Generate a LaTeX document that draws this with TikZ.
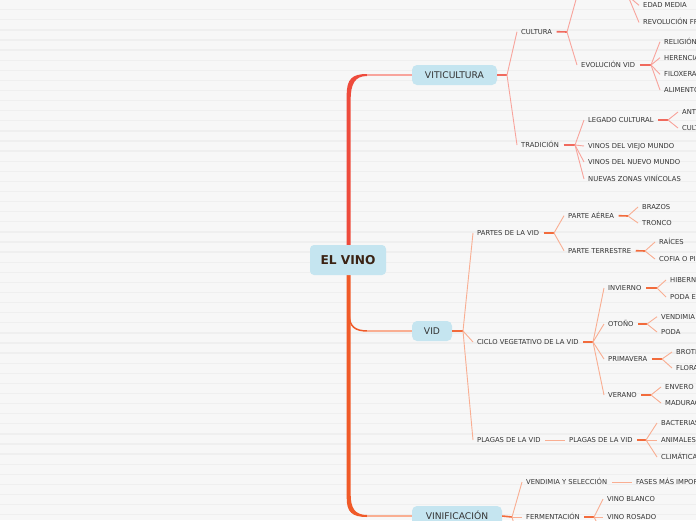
\documentclass[tikz,border=0pt]{standalone}
\usepackage{fontspec}
\setmainfont{DejaVu Sans}
\definecolor{bgc}{HTML}{F7F7F7}
\definecolor{stripec}{HTML}{EFEFEF}
\definecolor{boxc}{HTML}{C5E5F0}
\definecolor{txtc}{HTML}{333333}
\definecolor{vinoc}{HTML}{3B2314}
\definecolor{trunkR}{HTML}{EE4B3C}
\definecolor{trunkO}{HTML}{F05A28}
\definecolor{stubRc}{HTML}{F06A5E}
\definecolor{fanRc}{HTML}{F8A49C}
\definecolor{stubOc}{HTML}{F26B3C}
\definecolor{fanOc}{HTML}{F9AE92}
\tikzset{
 lbl/.style={anchor=west, inner sep=0pt, text height=4.96pt, text depth=0pt, font=\fontsize{6.8}{8}\selectfont, text=txtc},
 topbox/.style={fill=boxc, rounded corners=5pt, inner sep=0pt, text=txtc, font=\fontsize{9.2}{11}\selectfont, minimum height=20pt, text height=6.7pt, text depth=0pt},
 stubR/.style={draw=stubRc, line width=1.6pt},
 fanR/.style={draw=fanRc, line width=0.9pt},
 stubO/.style={draw=stubOc, line width=1.6pt},
 fanO/.style={draw=fanOc, line width=0.9pt},
}
\begin{document}
\begin{tikzpicture}[x=1pt,y=-1pt]
\useasboundingbox (0,0) rectangle (696,520);
\clip (0,0) rectangle (696,520);
\fill[bgc] (0,0) rectangle (696,520);
\foreach \i in {0,...,51} \fill[stripec] (0,{9+10.1*\i}) rectangle (696,{10.3+10.1*\i});

% trunk
\fill[trunkR] (367,74) .. controls (352,74) and (346.7,79) .. (346.7,95) -- (346.7,250) -- (350.7,250) -- (350.7,100) .. controls (350.5,84) and (355,76) .. (367,76) -- cycle;
\fill[trunkO] (346.7,270) -- (346.7,498) .. controls (346.7,512) and (352,517) .. (367,517) -- (367,515) .. controls (355,515) and (350.7,508) .. (350.7,495) -- (350.7,270) -- cycle;
\draw[trunkO, line width=1.5pt] (349,314) .. controls (349.5,327) and (355,331) .. (368,331);

% main nodes
\node[fill=boxc, rounded corners=4pt, minimum width=76pt, minimum height=30pt, inner sep=0pt, text=vinoc, font=\fontsize{12.2}{14}\selectfont\bfseries] (vino) at (348,260) {EL VINO};
\node[topbox, minimum width=85pt] (viti) at (454.5,75) {VITICULTURA};
\node[topbox, minimum width=40pt] (vid) at (432,331) {VID};
\node[topbox, minimum width=90pt] (vinif) at (457,516) {VINIFICACIÓN};

\coordinate (c1) at (367,75);
\coordinate (c2) at (367,331);
\coordinate (c3) at (367,516);
\draw[fanR, line width=1.1pt] (c1) -- (viti.west);
\draw[fanO, line width=1.1pt] (c2) -- (vid.west);
\draw[fanO, line width=1.1pt] (c3) -- (vinif.west);

% ---------- VITICULTURA ----------
\node[lbl] (cultura) at (521,31.7) {CULTURA};
\node[lbl] (tradicion) at (521,145) {TRADICIÓN};
\node[lbl] (edad) at (643,5.3) {EDAD MEDIA};
\node[lbl] (revol) at (643,22.5) {REVOLUCIÓN FR};
\node[lbl] (evol) at (581,65) {EVOLUCIÓN VID};
\node[lbl] (religion) at (664,41.7) {RELIGIÓN};
\node[lbl] (herencia) at (664,57.7) {HERENCIA};
\node[lbl] (filoxera) at (664,74.3) {FILOXERA};
\node[lbl] (alimento) at (664,90) {ALIMENTO};
\node[lbl] (legado) at (588,120) {LEGADO CULTURAL};
\node[lbl] (viejo) at (588,146) {VINOS DEL VIEJO MUNDO};
\node[lbl] (nuevo) at (588,162) {VINOS DEL NUEVO MUNDO};
\node[lbl] (nuevas) at (588,179) {NUEVAS ZONAS VINÍCOLAS};
\node[lbl] (anti) at (682,112) {ANTI};
\node[lbl] (cult) at (682,128) {CULT};

\coordinate (v1) at (507,75);
\coordinate (v2) at (567,32);
\coordinate (hid1) at (581,-4);
\coordinate (v3) at (628,-4);
\coordinate (v4) at (651,65);
\coordinate (v5) at (575,145);
\coordinate (v6) at (668,120);

\draw[stubR] (viti.east) -- (v1);
\foreach \t in {cultura,tradicion} \draw[fanR] (v1) -- ([xshift=-4pt]\t.west);
\draw[stubR] ([xshift=4.5pt]cultura.east) -- (v2);
\draw[fanR] (v2) -- ([xshift=-4pt]hid1);
\draw[fanR] (v2) -- ([xshift=-4pt]evol.west);
\foreach \t in {edad,revol} \draw[fanR] (v3) -- ([xshift=-4pt]\t.west);
\draw[stubR] ([xshift=4.5pt]evol.east) -- (v4);
\foreach \t in {religion,herencia,filoxera,alimento} \draw[fanR] (v4) -- ([xshift=-4pt]\t.west);
\draw[stubR] ([xshift=4.5pt]tradicion.east) -- (v5);
\foreach \t in {legado,viejo,nuevo,nuevas} \draw[fanR] (v5) -- ([xshift=-4pt]\t.west);
\draw[stubR] ([xshift=4.5pt]legado.east) -- (v6);
\foreach \t in {anti,cult} \draw[fanR] (v6) -- ([xshift=-4pt]\t.west);

% ---------- VID ----------
\node[lbl] (partes) at (477,233) {PARTES DE LA VID};
\node[lbl] (ciclo) at (477,342) {CICLO VEGETATIVO DE LA VID};
\node[lbl] (plagas) at (477,440) {PLAGAS DE LA VID};
\node[lbl] (aerea) at (568,215.7) {PARTE AÉREA};
\node[lbl] (terrestre) at (568,250.7) {PARTE TERRESTRE};
\node[lbl] (brazos) at (642,207) {BRAZOS};
\node[lbl] (tronco) at (642,223) {TRONCO};
\node[lbl] (raices) at (659,242) {RAÍCES};
\node[lbl] (cofia) at (659,259) {COFIA O PI};
\node[lbl] (invierno) at (608,288) {INVIERNO};
\node[lbl] (otono) at (608,324) {OTOÑO};
\node[lbl] (primavera) at (608,359) {PRIMAVERA};
\node[lbl] (verano) at (608,395) {VERANO};
\node[lbl] (hibern) at (670,280) {HIBERN};
\node[lbl] (podae) at (670,297) {PODA E};
\node[lbl] (vendimia) at (661,316.7) {VENDIMIA};
\node[lbl] (poda) at (661,332) {PODA};
\node[lbl] (brote) at (676,352) {BROTE};
\node[lbl] (flora) at (676,368) {FLORA};
\node[lbl] (envero) at (665,387) {ENVERO};
\node[lbl] (madurac) at (665,403) {MADURAC};
\node[lbl] (plagasb) at (569,440) {PLAGAS DE LA VID};
\node[lbl] (bacterias) at (661,423) {BACTERIAS};
\node[lbl] (animales) at (661,440) {ANIMALES};
\node[lbl] (climatica) at (661,457) {CLIMÁTICA};

\coordinate (w1) at (463,331);
\coordinate (w2) at (554,233);
\coordinate (w3) at (628,216);
\coordinate (w4) at (645,251);
\coordinate (w5) at (593,342);
\coordinate (w6) at (657,288);
\coordinate (w7) at (647,324);
\coordinate (w8) at (662,359);
\coordinate (w9) at (651,395);
\coordinate (w10) at (646,440);

\draw[stubO] (vid.east) -- (w1);
\foreach \t in {partes,ciclo,plagas} \draw[fanO] (w1) -- ([xshift=-4pt]\t.west);
\draw[stubO] ([xshift=4.5pt]partes.east) -- (w2);
\foreach \t in {aerea,terrestre} \draw[fanO] (w2) -- ([xshift=-4pt]\t.west);
\draw[stubO] ([xshift=4.5pt]aerea.east) -- (w3);
\foreach \t in {brazos,tronco} \draw[fanO] (w3) -- ([xshift=-4pt]\t.west);
\draw[stubO] ([xshift=4.5pt]terrestre.east) -- (w4);
\foreach \t in {raices,cofia} \draw[fanO] (w4) -- ([xshift=-4pt]\t.west);
\draw[stubO] ([xshift=4.5pt]ciclo.east) -- (w5);
\foreach \t in {invierno,otono,primavera,verano} \draw[fanO] (w5) -- ([xshift=-4pt]\t.west);
\draw[stubO] ([xshift=4.5pt]invierno.east) -- (w6);
\foreach \t in {hibern,podae} \draw[fanO] (w6) -- ([xshift=-4pt]\t.west);
\draw[stubO] ([xshift=4.5pt]otono.east) -- (w7);
\foreach \t in {vendimia,poda} \draw[fanO] (w7) -- ([xshift=-4pt]\t.west);
\draw[stubO] ([xshift=4.5pt]primavera.east) -- (w8);
\foreach \t in {brote,flora} \draw[fanO] (w8) -- ([xshift=-4pt]\t.west);
\draw[stubO] ([xshift=4.5pt]verano.east) -- (w9);
\foreach \t in {envero,madurac} \draw[fanO] (w9) -- ([xshift=-4pt]\t.west);
\draw[fanO] ([xshift=4.5pt]plagas.east) -- ([xshift=-4.5pt]plagasb.west);
\draw[stubO] ([xshift=4.5pt]plagasb.east) -- (w10);
\foreach \t in {bacterias,animales,climatica} \draw[fanO] (w10) -- ([xshift=-4pt]\t.west);

% ---------- VINIFICACIÓN ----------
\node[lbl] (vendsel) at (526,482) {VENDIMIA Y SELECCIÓN};
\node[lbl] (ferm) at (526,517) {FERMENTACIÓN};
\node[lbl] (fases) at (636,482) {FASES MÁS IMPOR};
\node[lbl] (blanco) at (607,499) {VINO BLANCO};
\node[lbl] (rosado) at (607,517) {VINO ROSADO};
\coordinate (hid2) at (526,552);
\coordinate (hid3) at (607,534);
\coordinate (u1) at (512,517);
\coordinate (u2) at (594,517);

\draw[stubO] (vinif.east) -- (u1);
\foreach \t in {vendsel,ferm} \draw[fanO] (u1) -- ([xshift=-4pt]\t.west);
\draw[fanO] (u1) -- ([xshift=-4pt]hid2);
\draw[fanO] ([xshift=4.5pt]vendsel.east) -- ([xshift=-4.5pt]fases.west);
\draw[stubO] ([xshift=4.5pt]ferm.east) -- (u2);
\foreach \t in {blanco,rosado} \draw[fanO] (u2) -- ([xshift=-4pt]\t.west);
\draw[fanO] (u2) -- ([xshift=-4pt]hid3);
\end{tikzpicture}
\end{document}
